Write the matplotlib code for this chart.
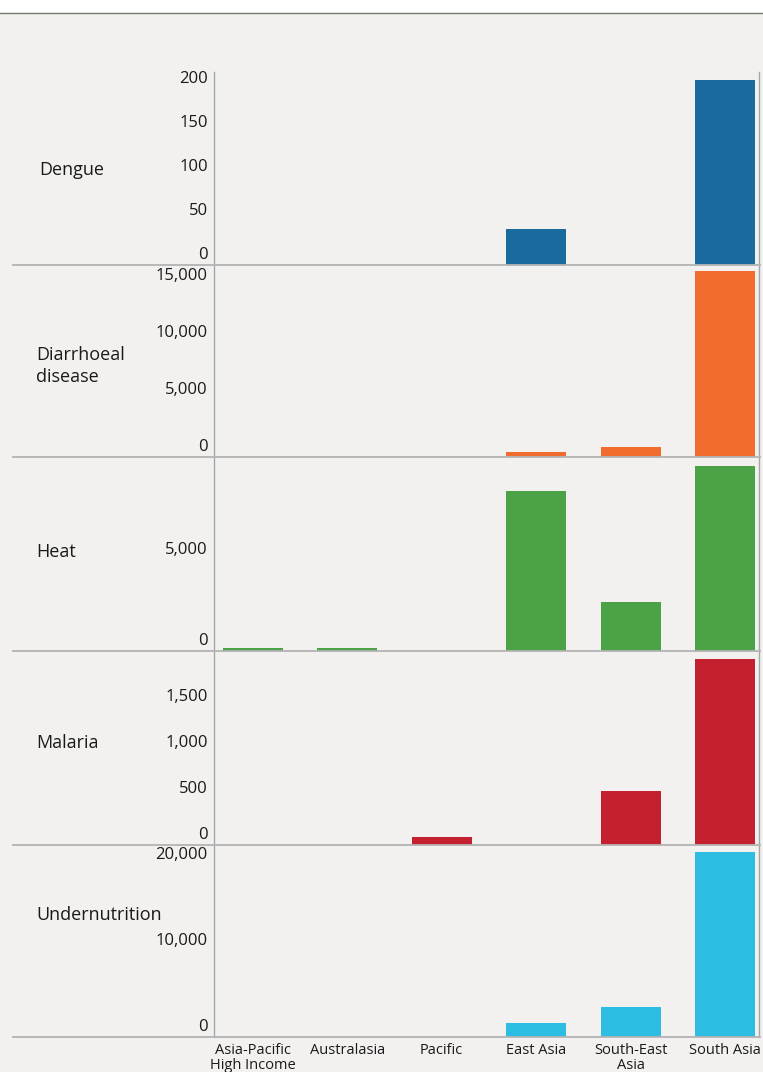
import matplotlib.pyplot as plt
from matplotlib.lines import Line2D

# regions along the x axis
regions = ["Asia-Pacific\nHigh Income", "Australasia", "Pacific", "East Asia",
           "South-East\nAsia", "South Asia"]

# one row per health impact
dengue = [0, 0, 0, 41, 0, 210]
diarrhoeal = [0, 0, 0, 440, 880, 16300]
heat = [150, 150, 0, 8790, 2690, 10160]
malaria = [0, 0, 90, 0, 587, 2020]
undernutrition = [0, 0, 0, 1630, 3490, 21500]

row_names = ["Dengue", "Diarrhoeal\ndisease", "Heat", "Malaria", "Undernutrition"]
row_values = [dengue, diarrhoeal, heat, malaria, undernutrition]
row_ticks = [[0, 50, 100, 150, 200],
             [0, 5000, 10000, 15000],
             [0, 5000],
             [0, 500, 1000, 1500],
             [0, 10000, 20000]]
row_ymax = [219, 16840, 10660, 2109, 22330]
row_colors = ["#1a6aa0", "#f26c30", "#4ba247", "#c5202f", "#2dbde2"]

W, H = 763, 1072
bg = "#f2f1ef"
plt.rcParams['font.family'] = ['Open Sans', 'DejaVu Sans']

fig = plt.figure(figsize=(W / 100, H / 100), dpi=100)
fig.patch.set_facecolor(bg)

# white band and rule at the top
fig.add_artist(plt.Rectangle((0, 1 - 13 / H), 1, 13 / H, transform=fig.transFigure,
                             facecolor="white", edgecolor="none"))
fig.add_artist(Line2D([0, 1], [1 - 13 / H] * 2, transform=fig.transFigure,
                      color="#6f7f68", lw=1))

edges = [72, 265, 457, 651, 845, 1037]
name_x = [39, 36, 36, 36, 36]
name_y = [170, 366, 552, 743, 915]
left, right = 214 / W, 759 / W
x = list(range(len(regions)))

for i in range(5):
    top, bot = edges[i], edges[i + 1]
    ax = fig.add_axes([left, 1 - bot / H, right - left, (bot - top) / H])
    ax.set_facecolor("none")
    ax.bar(x, row_values[i], width=0.635, color=row_colors[i])
    ax.set_xlim(-0.41, 5.36)
    ax.set_ylim(0, row_ymax[i])
    for s in ["top", "bottom"]:
        ax.spines[s].set_visible(False)
    for s in ["left", "right"]:
        ax.spines[s].set_color("#a3a7ab")
        ax.spines[s].set_linewidth(1)
    ax.set_xticks([])
    ax.set_yticks([])
    for t in row_ticks[i]:
        ax.annotate(f"{t:,}", xy=(0, t), xycoords=("axes fraction", "data"),
                    xytext=(-4.5, 7), textcoords="offset points",
                    ha="right", va="center", fontsize=12, color="#1a1a1a")
    fig.text(name_x[i] / W, 1 - name_y[i] / H, row_names[i],
             ha="left", va="center", fontsize=13, color="#1a1a1a",
             linespacing=1.35)
    # baseline rule across the whole width
    fig.add_artist(Line2D([13 / W, 760 / W], [1 - bot / H] * 2,
                          transform=fig.transFigure, color="#b4b4b4", lw=1.3))
    if i == 4:
        for xi, lab in zip(x, regions):
            ax.annotate(lab, xy=(xi, 0), xycoords="data", xytext=(0, -4),
                        textcoords="offset points", ha="center", va="top",
                        fontsize=10.5, color="#1a1a1a", linespacing=1.05,
                        annotation_clip=False)

fig.savefig("out.png", dpi=100, facecolor=bg)
